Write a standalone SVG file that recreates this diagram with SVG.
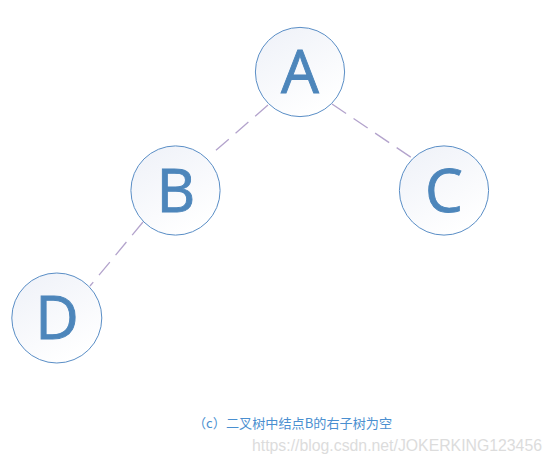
<svg xmlns="http://www.w3.org/2000/svg" width="553" height="463" viewBox="0 0 553 463">
<style>
.node circle{fill:url(#g);stroke:#5a8ec6;stroke-width:1}
.node text{font-family:"Open Sans","Noto Sans","Liberation Sans",sans-serif;font-size:60px;fill:#4d86bb;stroke:#4d86bb;stroke-width:0.9;text-anchor:middle}
.edge{stroke:#b3a3cc;stroke-width:1.3;stroke-dasharray:17 9;fill:none}
</style>
<defs>
<linearGradient id="g" x1="0" y1="0" x2="0.6" y2="1">
<stop offset="0" stop-color="#eef1f8"/>
<stop offset="1" stop-color="#ffffff"/>
</linearGradient>
</defs>
<rect width="553" height="463" fill="#ffffff"/>
<g id="connectors">
<line class="edge" x1="268" y1="105" x2="214" y2="152"/>
<line class="edge" x1="332" y1="104" x2="412" y2="158"/>
<line class="edge" x1="143" y1="222" x2="90" y2="286"/>
</g>
<g id="node-A" class="node"><circle cx="300" cy="72" r="44.6"/><text x="300" y="93">A</text></g>
<g id="node-B" class="node"><circle cx="175.5" cy="190.5" r="44.6"/><text x="176" y="212">B</text></g>
<g id="node-C" class="node"><circle cx="444" cy="190.5" r="44.6"/><text x="444" y="212">C</text></g>
<g id="node-D" class="node"><circle cx="56.8" cy="318" r="45"/><text x="57" y="339">D</text></g>
<text x="193" y="428" font-family="'Noto Sans CJK SC','Liberation Sans',sans-serif" font-size="13" fill="#4a8fd0" textLength="199" lengthAdjust="spacingAndGlyphs">（c）二叉树中结点B的右子树为空</text>
<text x="252" y="451" font-family="'Liberation Sans',Arial,sans-serif" font-size="16" fill="#dcdcdc" textLength="290" lengthAdjust="spacingAndGlyphs">https://blog.csdn.net/JOKERKING123456</text>
</svg>
